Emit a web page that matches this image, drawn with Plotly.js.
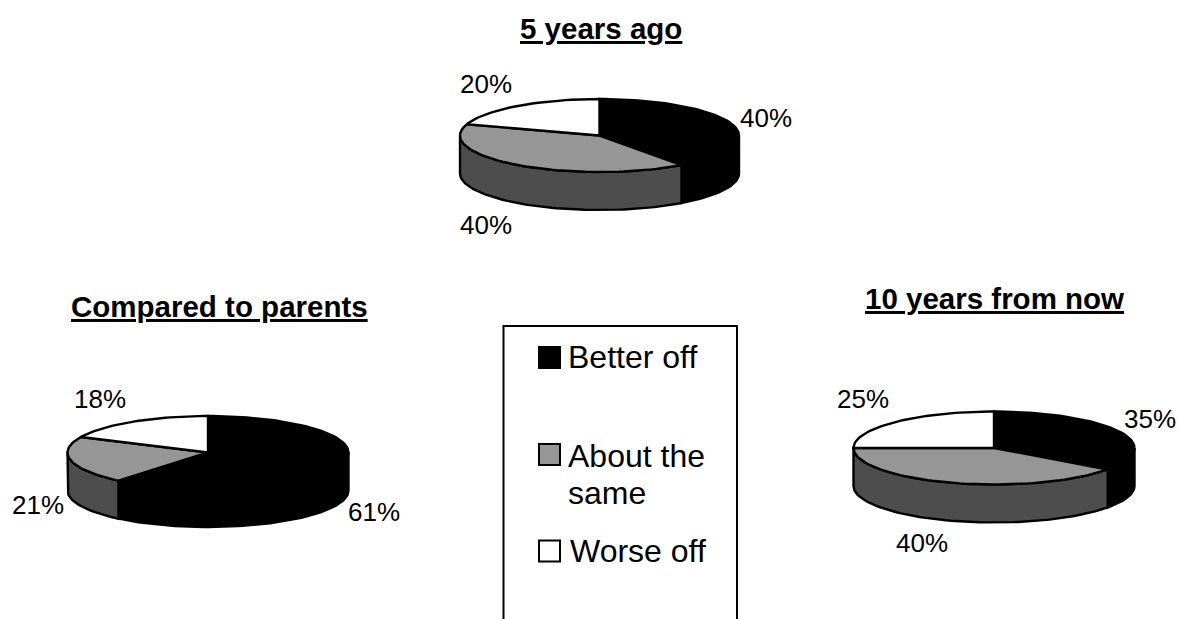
<!DOCTYPE html>
<html>
<head>
<meta charset="utf-8">
<script src="https://cdn.plot.ly/plotly-3.0.1.min.js"></script>
<style>html,body{margin:0;padding:0;background:#fff}#chart{width:1178px;height:619px}</style>
</head>
<body>
<div id="chart"></div>
<script>
// Data
const categories = ["Better off", "About the same", "Worse off"];
const valuesFiveYearsAgo = [40, 40, 20];
const valuesParents = [61, 21, 18];
const valuesTenYears = [35, 40, 25];
const pieTitles = ["5 years ago", "Compared to parents", "10 years from now"];

// Styles and layout (separate from data)
const FONT = "Liberation Sans, Arial, sans-serif";
const topColors = ["#000000", "#969696", "#ffffff"];
const sideColors = ["#000000", "#4d4d4d", "#ffffff"];
const pies = [
  {values: valuesFiveYearsAgo, title: pieTitles[0], cx: 599.5, cy: 135.5, rx: 139.5, ry: 36.5, depth: 38,
   titlePos: [601, 28], labelPos: [[765.5, 118], [485.6, 225], [485.6, 84]]},
  {values: valuesParents, title: pieTitles[1], cx: 208, cy: 452.5, rx: 140.5, ry: 36.5, depth: 38,
   titlePos: [219.5, 306], labelPos: [[373.5, 512], [37.5, 505], [100, 399]]},
  {values: valuesTenYears, title: pieTitles[2], cx: 994, cy: 448, rx: 140.5, ry: 36.5, depth: 38,
   titlePos: [994.5, 298], labelPos: [[1150, 419], [922, 543], [863, 399]]}
];
const legendRows = [
  {y: 357.5, lines: [[566, 357]]},
  {y: 454.5, lines: [[566, 456], [566, 493]]},
  {y: 551, lines: [[568, 551]]}
];

const traces = [];
const annotations = [];

function anglesBetween(a, b) {
  const out = [];
  const n = Math.max(2, Math.ceil((b - a) / 2));
  for (let i = 0; i <= n; i++) out.push(a + (b - a) * i / n);
  return out;
}

function addPoly(xs, ys, fill) {
  traces.push({
    type: "scatter", mode: "lines", x: xs, y: ys, fill: "toself", fillcolor: fill,
    line: {color: "#000000", width: 2.4}, hoverinfo: "skip", showlegend: false
  });
}

function drawPie(p) {
  const total = p.values.reduce((s, v) => s + v, 0);
  const px = t => p.cx + p.rx * Math.sin(t * Math.PI / 180);
  const py = t => p.cy - p.ry * Math.cos(t * Math.PI / 180);
  let start = 0;
  const spans = p.values.map(v => { const s = [start, start + v / total * 360]; start = s[1]; return s; });
  // side walls: only the front half of the rim is visible
  spans.forEach((s, i) => {
    const a = Math.max(s[0], 90), b = Math.min(s[1], 270);
    if (b <= a) return;
    const ts = anglesBetween(a, b);
    const xs = ts.map(px).concat(ts.slice().reverse().map(px));
    const ys = ts.map(py).concat(ts.slice().reverse().map(t => py(t) + p.depth));
    xs.push(xs[0]); ys.push(ys[0]);
    addPoly(xs, ys, sideColors[i]);
  });
  // top faces
  spans.forEach((s, i) => {
    const ts = anglesBetween(s[0], s[1]);
    const xs = [p.cx].concat(ts.map(px), [p.cx]);
    const ys = [p.cy].concat(ts.map(py), [p.cy]);
    addPoly(xs, ys, topColors[i]);
  });
  annotations.push({
    text: "<b><u>" + p.title + "</u></b>", x: p.titlePos[0], y: p.titlePos[1], xref: "x", yref: "y",
    xanchor: "center", yanchor: "middle", showarrow: false, font: {family: FONT, size: 29.5, color: "#000"}
  });
  p.values.forEach((v, i) => annotations.push({
    text: v + "%", x: p.labelPos[i][0], y: p.labelPos[i][1], xref: "x", yref: "y",
    xanchor: "center", yanchor: "middle", showarrow: false, font: {family: FONT, size: 26, color: "#000"}
  }));
}
pies.forEach(drawPie);

// Legend
const legendLineText = [["Better off"], ["About the", "same"], ["Worse off"]];
categories.forEach((c, i) => {
  traces.push({
    type: "scatter", mode: "markers", name: c, x: [549.5], y: [legendRows[i].y],
    marker: {symbol: "square", size: 21, color: topColors[i], line: {color: "#000", width: 2}},
    hoverinfo: "skip", showlegend: false
  });
  legendRows[i].lines.forEach((pos, j) => annotations.push({
    text: legendLineText[i][j], x: pos[0], y: pos[1], xref: "x", yref: "y",
    xanchor: "left", yanchor: "middle", showarrow: false, font: {family: FONT, size: 32, color: "#000"}
  }));
});

const layout = {
  width: 1178, height: 619, margin: {l: 0, r: 0, t: 0, b: 0},
  paper_bgcolor: "#fff", plot_bgcolor: "#fff", showlegend: false,
  xaxis: {range: [0, 1178], visible: false, fixedrange: true},
  yaxis: {range: [619, 0], visible: false, fixedrange: true},
  shapes: [{type: "rect", xref: "x", yref: "y", x0: 503.5, x1: 737, y0: 326, y1: 660,
            line: {color: "#000", width: 2}, fillcolor: "rgba(0,0,0,0)", layer: "below"}],
  annotations: annotations
};
Plotly.newPlot("chart", traces, layout, {staticPlot: true, displayModeBar: false});
</script>
</body>
</html>
